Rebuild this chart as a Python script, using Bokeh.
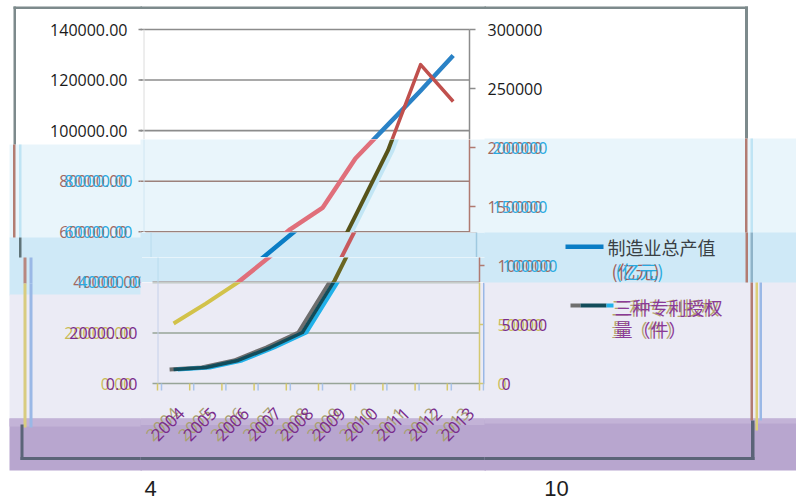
import math
from bokeh.plotting import figure
from bokeh.models import Range1d
from bokeh.core.properties import value
from bokeh.layouts import column, row
from bokeh.embed import file_html
from bokeh.resources import INLINE

# ---------------- data ----------------
years = ["2004", "2005", "2006", "2007", "2008", "2009", "2010", "2011", "2012", "2013"]
output_value = [23700, 31600, 40000, 50300, 61000, 69600, 89000, 102400, 115800, 129700]   # 制造业总产值（亿元）
patents = [11900, 13600, 19500, 30500, 43200, 87300, 142000, 197500, 270300, 239000]        # 三种专利授权量（件）
left_ticks = [0, 20000, 40000, 60000, 80000, 100000, 120000, 140000]
right_ticks = [0, 50000, 100000, 150000, 200000, 250000, 300000]
legend_rows = [("制造业总产值", "(亿元)"), ("三种专利授权", "量（件）")]
page_marks = ["4", "10"]

# ---------------- geometry (page pixels) ----------------
W, H = 796, 504
Y_ZERO, Y_TOP = 383, 29
LMAX, RMAX = 140000, 300000
N = len(years)
idx = list(range(N))
FONT = "Open Sans"
CJK = "Noto Sans CJK SC"
OV = 2                      # overlap between neighbouring zones (hides seams)
ZL, ZR = 142, 486           # zone split: left labels | plot | right labels & legend

C_B1, C_B2, C_B3, C_PU, C_PU2 = "#e9f5fb", "#cfe9f7", "#ebebf5", "#b8a6cf", "#c3b3d7"


def lv(py):
    return (Y_ZERO - py) * LMAX / (Y_ZERO - Y_TOP)


def rv(py):
    return (Y_ZERO - py) * RMAX / (Y_ZERO - Y_TOP)


def lpage(v):
    return Y_ZERO - v * (Y_ZERO - Y_TOP) / LMAX


def rpage(v):
    return Y_ZERO - v * (Y_ZERO - Y_TOP) / RMAX


STY = {
    "B0": dict(L=143, R=469, grid="#8c8c8c", laxis="#dcdcdc", raxis="#8c8c8c",
               lab=[("#1a1a1a", 0)], rlab=[("#1a1a1a", 0)]),
    "B1": dict(L=143, R=469, grid="#9c817b", laxis="#d0e6f2", raxis="#b07a70",
               lab=[("#a0685e", 0), ("#2aa9e0", 5)], rlab=[("#a0685e", 0), ("#2aa9e0", 5)]),
    "B2a": dict(L=150, R=476, grid="#9c817b", laxis="#b8dcee", raxis="#9fc9e0",
                lab=[("#2aa9e0", 0)], rlab=[("#2aa9e0", 0)]),
    "B2b": dict(L=157, R=479, grid="#9c817b", laxis="#b8dcee", raxis="#b07a70",
                lab=[("#a0685e", 0), ("#2aa9e0", 5)], rlab=[("#a0685e", 0), ("#2aa9e0", 5)]),
    "B3": dict(L=157, R=479, grid="#97a597", laxis="#c5d0ea", raxis="#d4c870",
               lab=[("#c9bb55", -5), ("#7a2c8c", 0)], rlab=[("#c9bb55", 0), ("#7a2c8c", 4)]),
}


def make_fig(px0, px1, py0, py1, L=143, R=469, margin=None):
    sp = (R - L) / N
    c0 = L + sp / 2

    def X(px):
        return (px - c0) / sp

    p = figure(width=px1 - px0, height=py1 - py0,
               x_range=Range1d(X(px0), X(px1)), y_range=Range1d(lv(py1), lv(py0)),
               output_backend="svg", toolbar_location=None,
               x_axis_location=None, y_axis_location=None,
               min_border_left=0, min_border_right=0, min_border_top=0, min_border_bottom=0,
               outline_line_color=None, background_fill_color=None, border_fill_color=None)
    if margin is not None:
        p.margin = margin
    p.xgrid.visible = False
    p.ygrid.visible = False
    p.extra_y_ranges = {"r": Range1d(rv(py1), rv(py0))}
    p.extra_x_ranges = {"plus": Range1d(X(px0) - 4 / sp, X(px1) - 4 / sp),
                        "minus": Range1d(X(px0) + 4 / sp, X(px1) + 4 / sp)}
    return p, X


def quads(p, X, boxes):
    for (x1, x2, y1, y2, c) in boxes:
        p.quad(left=X(x1), right=X(x2), top=lv(y1), bottom=lv(y2), fill_color=c, line_color=None)


def texts(p, X, items):
    for (px, py, t, c, size, font, align, off) in items:
        p.text(x=[X(px)], y=[lv(py)], text=[t], x_offset=off, text_color=c,
               text_font=value(font), text_font_size=size, text_align=align, text_baseline="middle")


# ---------------- decorations (page px) ----------------
LEFT_BG = [(9, ZL + 6, 144, 238, C_B1), (9, ZL + 6, 237, 295, C_B2), (9, ZL + 6, 294, 419, C_B3),
           (9, ZL + 6, 418, 470, C_PU), (9, ZL + 6, 418, 426, C_PU2)]
RIGHT_BG = [(ZR - 8, W + 6, 138, 233, C_B1), (ZR - 8, W + 6, 232, 283, C_B2),
            (ZR - 8, W + 6, 282, 419, C_B3), (ZR - 8, W + 6, 418, 470, C_PU),
            (ZR - 8, W + 6, 418, 423, C_PU2)]
BORDERS = [
    (13, 747.5, 6, 8.5, "#7d8a8c"),
    (13, 15.5, 6, 144, "#7d8a8c"), (744.5, 747.5, 6, 138, "#7d8a8c"),
    (12.5, 15, 144, 237, "#b27c72"), (18.5, 21, 144, 237, "#bfe4f4"),
    (744.5, 747, 138, 232, "#b27c72"), (750, 752.5, 138, 232, "#bfe4f4"),
    (18.5, 21, 237, 257, "#5f7378"),
    (23, 26, 257, 283, "#b88880"), (29, 32, 257, 283, "#9ab8e6"),
    (745, 747.5, 232, 282, "#b27c72"), (750, 752.5, 232, 282, "#8fb3c8"),
    (23, 26, 283, 427, "#d8cc80"), (29, 32, 283, 427, "#9ab8e6"),
    (750, 752.5, 282, 420, "#b27c72"), (755, 757.5, 282, 430, "#dcd07a"),
    (759, 761.5, 282, 420, "#9ab8e6"),
    (20, 23, 424, 459.5, "#5b6478"), (20, 754, 456.5, 459.5, "#5b6478"),
    (750.5, 754, 420, 459.5, "#5b6478"),
]


def left_band(y):
    return "B0" if y < 144 else ("B1" if y < 237 else ("B2b" if y < 282 else "B3"))


def right_band(y):
    return "B0" if y < 139 else ("B1" if y < 232 else ("B2b" if y < 282 else "B3"))


# ---------------- left zone: left tick labels ----------------
pl, Xl = make_fig(0, ZL, 0, H)
quads(pl, Xl, LEFT_BG)
for t in left_ticks:
    s = STY[left_band(lpage(t))]
    pl.segment(x0=Xl(s["L"] - 5), x1=Xl(s["L"]), y0=t, y1=t, line_color=s["grid"], line_width=1.6)
quads(pl, Xl, BORDERS)
for key in ["B0", "B1", "B2b", "B3"]:
    s = STY[key]
    tk = [t for t in left_ticks if left_band(lpage(t)) == key]
    if not tk:
        continue
    xpos = s["L"] - (20 if key == "B3" else 16)
    for (c, off) in s["lab"]:
        pl.text(x=[Xl(xpos)] * len(tk), y=tk, text=[f"{t:.2f}" for t in tk], x_offset=off,
                text_color=c, text_font=value(FONT), text_font_size="16px",
                text_align="right", text_baseline="middle")

# ---------------- right zone: right tick labels, legend ----------------
pr, Xr = make_fig(ZR - OV, W, 0, H, margin=(0, 0, 0, -OV))
quads(pr, Xr, RIGHT_BG)
quads(pr, Xr, BORDERS)
for key in ["B0", "B1", "B2b", "B3"]:
    s = STY[key]
    tk = [t for t in right_ticks if right_band(rpage(t)) == key]
    if not tk:
        continue
    for (c, off) in s["rlab"]:
        pr.text(x=[Xr(s["R"] + 18)] * len(tk), y=tk, text=[f"{t}" for t in tk], x_offset=off,
                y_range_name="r", text_color=c, text_font=value(FONT), text_font_size="16px",
                text_align="left", text_baseline="middle")
quads(pr, Xr, [(565, 603, 244, 248.5, "#0a7dc5"),
               (570, 580, 303, 307, "#6e6e6e"), (580, 606, 303, 307, "#124c5a"),
               (606, 613, 303, 307, "#21b1e9")])
texts(pr, Xr, [
    (607, 246, legend_rows[0][0], "#3a3f44", "18px", CJK, "left", 0),
    (611, 270, legend_rows[0][1], "#a0605a", "18px", CJK, "left", 0),
    (611, 270, legend_rows[0][1], "#29a9e0", "18px", CJK, "left", 4),
    (611, 306, legend_rows[1][0], "#b3a56e", "18px", CJK, "left", 0),
    (611, 306, legend_rows[1][0], "#8a3a98", "18px", CJK, "left", 3),
    (611, 328, legend_rows[1][1], "#b3a56e", "18px", CJK, "left", 0),
    (611, 328, legend_rows[1][1], "#8a3a98", "18px", CJK, "left", 3),
    (556, 488, page_marks[1], "#1e1e1e", "22px", "Liberation Sans", "center", 0),
])

# ---------------- middle zone: plot bands ----------------
mid_bands = [
    dict(top=0, bottom=139, sty="B0", bg=[],
         blue=[("#2a82c6", 4.5, None)], red=[("#c0504d", 3.5, None)]),
    dict(top=139, bottom=232, sty="B1", bg=[(ZL - 8, ZR + 6, 134, 237, C_B1)],
         blue=[("#e06f7b", 4.5, None)], red=[("#c2e6f5", 5, "plus"), ("#57531a", 4, None)]),
    dict(top=232, bottom=257, sty="B2a", bg=[(ZL - 8, ZR + 6, 227, 262, C_B2)],
         blue=[("#0a7dc5", 4.5, None)], red=[("#c85a5e", 4, None)]),
    dict(top=257, bottom=282, sty="B2b", bg=[(ZL - 8, ZR + 6, 252, 287, C_B2)],
         blue=[("#e06f7b", 4.5, None)], red=[("#6b6622", 4, None)]),
    dict(top=282, bottom=H, sty="B3", xaxis=True,
         bg=[(ZL - 8, ZR + 6, 277, 419, C_B3), (ZL - 8, ZR + 6, 418, 470, C_PU),
             (ZL - 8, ZR + 6, 418, 424.5, C_PU2)],
         blue=[("#d2c24a", 4, None)],
         red=[("#6e6e6e", 4, "minus"), ("#21b1e9", 4, "plus"), ("#124c5a", 3.5, None)]),
]

mids = []
for b in mid_bands:
    s = STY[b["sty"]]
    L, R = s["L"], s["R"]
    p, X = make_fig(ZL - OV, ZR, b["top"], b["bottom"], L, R)
    quads(p, X, b["bg"])
    p.segment(x0=X(L - 5), x1=X(R), y0=left_ticks, y1=left_ticks, line_color=s["grid"], line_width=1.6)
    p.segment(x0=X(L + 0.5), x1=X(L + 0.5), y0=0, y1=LMAX, line_color=s["laxis"], line_width=1)
    p.segment(x0=X(R), x1=X(R), y0=0, y1=RMAX, y_range_name="r", line_color=s["raxis"], line_width=1.5)
    p.segment(x0=X(R), x1=X(R + 6), y0=right_ticks, y1=right_ticks, y_range_name="r",
              line_color=s["raxis"], line_width=1.5)
    if b.get("xaxis"):
        bnd = [i - 0.5 for i in range(N + 1)]
        p.segment(x0=bnd, x1=bnd, y0=0, y1=lv(Y_ZERO + 7), line_color="#d6c86a", line_width=1.5)
        p.segment(x0=bnd, x1=bnd, y0=0, y1=lv(Y_ZERO + 7), x_range_name="plus",
                  line_color="#a9c4ea", line_width=1.5)
        quads(p, X, [(R + 3.5, R + 5.5, 282, Y_ZERO, "#9ab8e6")])
    for (c, w, shift) in b["blue"]:
        kw = {"x_range_name": shift} if shift else {}
        p.line(idx, output_value, line_color=c, line_width=w, line_join="round", **kw)
    for (c, w, shift) in b["red"]:
        kw = {"x_range_name": shift} if shift else {}
        p.line(idx, patents, y_range_name="r", line_color=c, line_width=w, line_join="round", **kw)
    if b.get("xaxis"):
        for (c, off) in [("#a8a070", 3), ("#7a2c8c", 8)]:
            p.text(x=idx, y=[lv(410)] * N, text=years, x_offset=off, angle=math.pi / 4,
                   text_color=c, text_font=value(FONT), text_font_size="17px",
                   text_align="right", text_baseline="middle")
        texts(p, X, [(150, 488, page_marks[0], "#1e1e1e", "22px", "Liberation Sans", "center", 0)])
    quads(p, X, BORDERS)
    mids.append(p)

mid_col = column(*mids, spacing=0, margin=(0, 0, 0, -OV))
layout = row(pl, mid_col, pr, spacing=0)
open("out.html", "w").write(file_html(layout, INLINE))
